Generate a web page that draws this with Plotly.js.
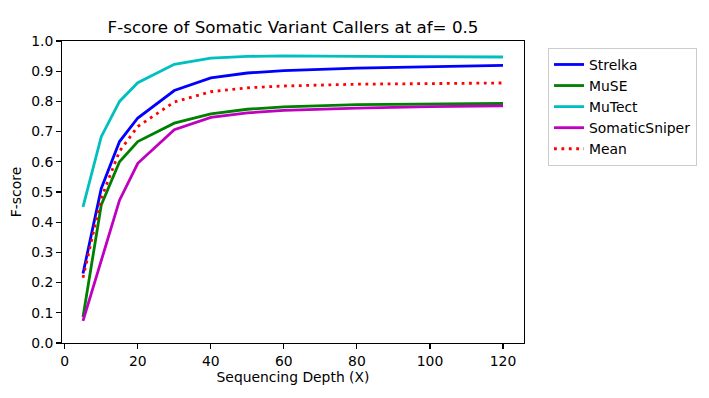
<!DOCTYPE html>
<html>
<head>
<meta charset="utf-8">
<script src="https://cdn.plot.ly/plotly-3.0.1.min.js"></script>
<style>html,body{margin:0;padding:0;background:#fff;}#chart{width:709px;height:398px;}</style>
</head>
<body>
<div id="chart"></div>
<script>
var depth = [5, 10, 15, 20, 30, 40, 50, 60, 80, 100, 120];
var strelka = [0.230, 0.512, 0.667, 0.745, 0.836, 0.878, 0.894, 0.902, 0.910, 0.915, 0.919];
var muse = [0.086, 0.457, 0.600, 0.667, 0.728, 0.759, 0.774, 0.782, 0.789, 0.792, 0.793];
var mutect = [0.451, 0.683, 0.800, 0.862, 0.923, 0.943, 0.949, 0.951, 0.949, 0.947, 0.947];
var somaticSniper = [0.073, 0.269, 0.473, 0.595, 0.706, 0.747, 0.762, 0.770, 0.778, 0.783, 0.785];
var meanScore = [0.216, 0.480, 0.635, 0.717, 0.798, 0.832, 0.845, 0.851, 0.857, 0.859, 0.861];
var xTicks = [0, 20, 40, 60, 80, 100, 120];
var yTicks = [0.0, 0.1, 0.2, 0.3, 0.4, 0.5, 0.6, 0.7, 0.8, 0.9, 1.0];

var FONT = "DejaVu Sans, sans-serif";
var LW = 2.8;
function tr(name, y, color, dash) {
  return {x: depth, y: y, name: name, type: 'scatter', mode: 'lines',
    line: {color: color, width: LW, dash: dash || 'solid'}};
}
var data = [
  tr('Strelka', strelka, '#0000ff'),
  tr('MuSE', muse, '#008000'),
  tr('MuTect', mutect, '#00bfbf'),
  tr('SomaticSniper', somaticSniper, '#bf00bf'),
  tr('Mean', meanScore, '#ff0000', '2.8px,4.6px')
];
var axisCommon = {
  showline: true, mirror: true, linecolor: '#000', linewidth: 1.1,
  ticks: 'outside', ticklen: 4.9, tickwidth: 1.1, tickcolor: '#000',
  showgrid: false, zeroline: false,
  tickfont: {family: FONT, size: 13.9, color: '#000'}
};
var layout = {
  width: 709, height: 398,
  margin: {l: 62, r: 183, t: 41, b: 55},
  paper_bgcolor: '#fff', plot_bgcolor: '#fff',
  font: {family: FONT, size: 13.9, color: '#000'},
  title: {text: 'F-score of Somatic Variant Callers at af= 0.5',
    font: {family: FONT, size: 16.7, color: '#000'},
    x: 0.5, xref: 'paper', xanchor: 'center', y: 0.932, yref: 'container', yanchor: 'middle'},
  xaxis: Object.assign({}, axisCommon, {
    range: [-0.75, 125.75], tickvals: xTicks, ticktext: xTicks.map(String),
    title: {text: 'Sequencing Depth (X)', font: {family: FONT, size: 13.9, color: '#000'}, standoff: 4}
  }),
  yaxis: Object.assign({}, axisCommon, {
    range: [0, 1], tickvals: yTicks, ticktext: yTicks.map(function(v){return v.toFixed(1);}),
    title: {text: 'F-score', font: {family: FONT, size: 13.9, color: '#000'}, standoff: 6}
  }),
  showlegend: true,
  legend: {x: 1.052, y: 0.977, xanchor: 'left', yanchor: 'top',
    bordercolor: '#cccccc', borderwidth: 1, bgcolor: 'rgba(255,255,255,0.8)',
    font: {family: FONT, size: 13.9, color: '#000'}, tracegroupgap: 0}
};
Plotly.newPlot('chart', data, layout, {displayModeBar: false, staticPlot: true});
</script>
</body>
</html>
